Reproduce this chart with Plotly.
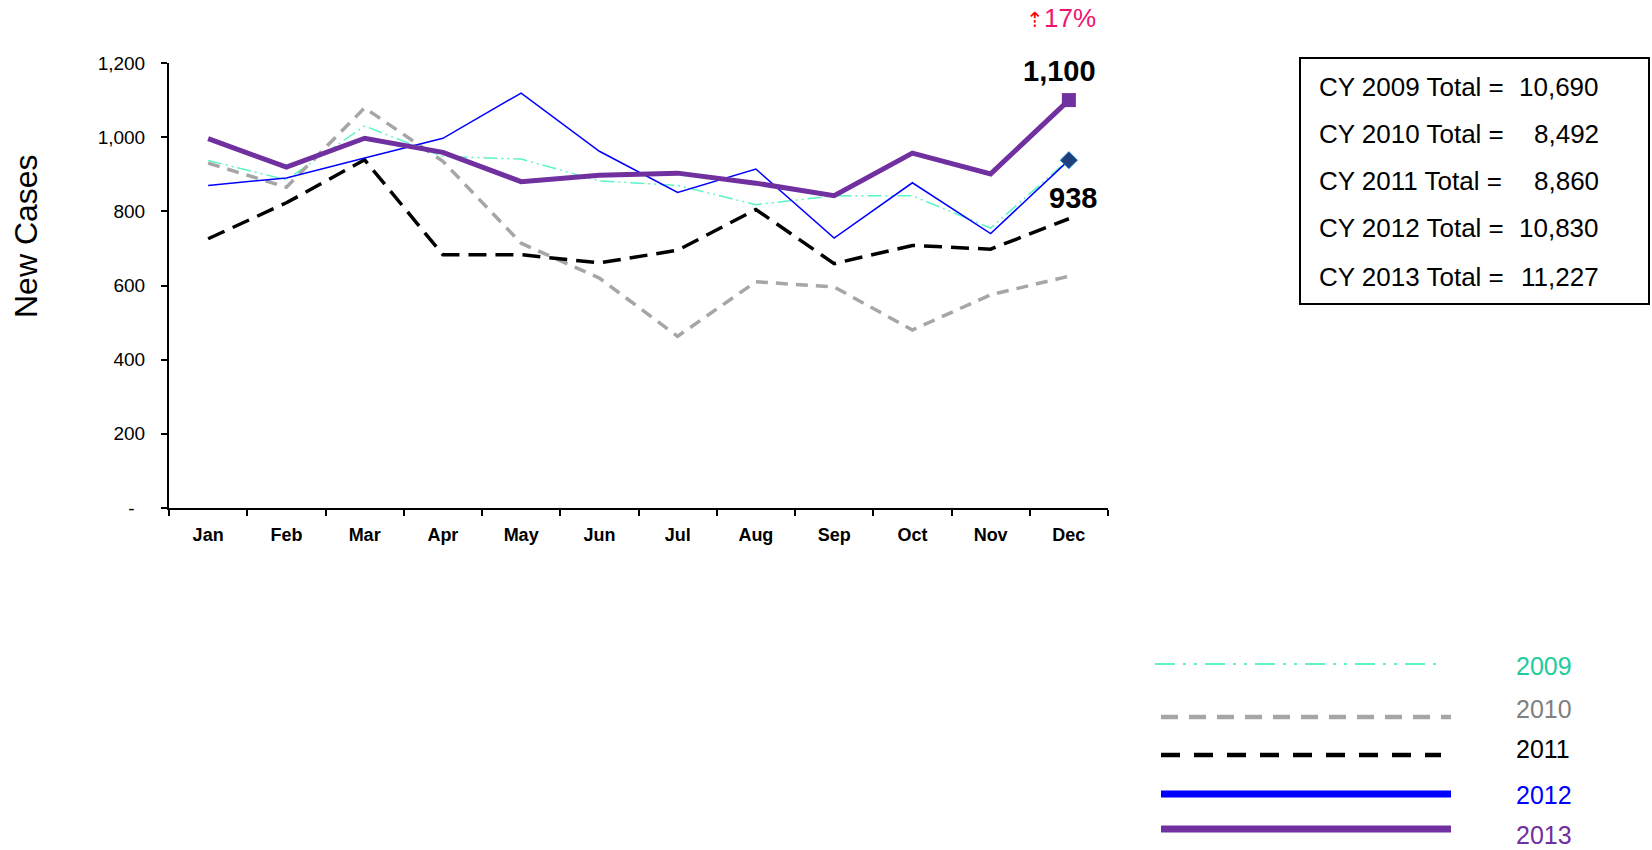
import plotly.graph_objects as go

# ---------------- data ----------------
months = ["Jan", "Feb", "Mar", "Apr", "May", "Jun", "Jul", "Aug", "Sep", "Oct", "Nov", "Dec"]
v2009 = [937, 885, 1030, 948, 941, 882, 870, 818, 842, 842, 755, 940]
v2010 = [930, 865, 1079, 935, 714, 620, 463, 610, 596, 480, 575, 625]
v2011 = [726, 823, 939, 683, 683, 661, 695, 805, 659, 708, 698, 780]
v2012 = [870, 890, 944, 997, 1119, 962, 851, 914, 728, 877, 740, 938]
v2013 = [996, 919, 997, 959, 880, 897, 903, 876, 842, 957, 901, 1100]
years = ["2009", "2010", "2011", "2012", "2013"]
totals = [10690, 8492, 8860, 10830, 11227]
ytick_vals = [0, 200, 400, 600, 800, 1000, 1200]
ytick_text = ["-\u00a0\u00a0", "200", "400", "600", "800", "1,000", "1,200"]
change_text = "17%"

FONT = "Arial, 'Liberation Sans', sans-serif"
W, H = 1652, 850
L, R, T, B = 169, 1108, 63, 508


def px(x):
    return (x - L) / (R - L)


def py(y):
    return (B - y) / (B - T)


fig = go.Figure()

fig.add_trace(go.Scatter(x=months, y=v2009, mode="lines", name="2009",
                         line=dict(color="#5CF5C8", width=1.5, dash="14px,4px,2px,4px,2px,4px")))
fig.add_trace(go.Scatter(x=months, y=v2010, mode="lines", name="2010",
                         line=dict(color="#A6A6A6", width=3.5, dash="12px,8px")))
fig.add_trace(go.Scatter(x=months, y=v2011, mode="lines", name="2011",
                         line=dict(color="#000000", width=3.5, dash="18px,9px")))
fig.add_trace(go.Scatter(x=months, y=v2012, mode="lines", name="2012",
                         line=dict(color="#0000FF", width=1.5)))
fig.add_trace(go.Scatter(x=[months[-1]], y=[v2012[-1]], mode="markers", name="2012 Dec",
                         marker=dict(symbol="diamond", size=13, color="#1F3F7A",
                                     line=dict(color="#0070C0", width=1))))
fig.add_trace(go.Scatter(x=months, y=v2013, mode="lines", name="2013",
                         line=dict(color="#7030A0", width=5)))
fig.add_trace(go.Scatter(x=[months[-1]], y=[v2013[-1]], mode="markers", name="2013 Dec",
                         marker=dict(symbol="square", size=14, color="#7030A0")))

annotations = []
# value labels at December
annotations.append(dict(x=months[-1], y=v2013[-1], xref="x", yref="y",
                        text="<b>{:,}</b>".format(v2013[-1]), showarrow=False,
                        xanchor="center", yanchor="middle",
                        xshift=-9, yshift=29, font=dict(family=FONT, size=29, color="black")))
annotations.append(dict(x=months[-1], y=v2012[-1], xref="x", yref="y",
                        text="<b>{:,}</b>".format(v2012[-1]), showarrow=False,
                        xanchor="center", yanchor="middle",
                        xshift=4, yshift=-38, font=dict(family=FONT, size=29, color="black")))
# percent change
annotations.append(dict(x=px(1061), y=py(18), xref="paper", yref="paper",
                        xanchor="center", yanchor="middle",
                        text="<span style='color:#FF0000;font-size:21px'>⇡</span>" + change_text,
                        showarrow=False, font=dict(family=FONT, size=26, color="#F0146E")))
# y axis title
annotations.append(dict(x=px(26), y=py(236), xref="paper", yref="paper", text="New Cases",
                        textangle=-90, showarrow=False, xanchor="center", yanchor="middle",
                        font=dict(family=FONT, size=32, color="black")))

# totals box
row_y = [86.5, 134, 181, 228, 277]
for yr, tot, ry in zip(years, totals, row_y):
    annotations.append(dict(x=px(1317), y=py(ry), xref="paper", yref="paper",
                            text="CY {} Total =".format(yr), showarrow=False,
                            xanchor="left", yanchor="middle",
                            font=dict(family=FONT, size=26, color="black")))
    annotations.append(dict(x=px(1601), y=py(ry), xref="paper", yref="paper",
                            text="{:,}".format(tot), showarrow=False,
                            xanchor="right", yanchor="middle",
                            font=dict(family=FONT, size=26, color="black")))

shapes = [dict(type="rect", xref="paper", yref="paper", x0=px(1300), x1=px(1649),
               y0=py(58), y1=py(304), line=dict(color="black", width=2))]

# custom legend
leg = [
    ("2009", "#5CF5C8", 2, "20px,8px,3px,8px,3px,8px", 1155, 1440, 664, "#1ECC9A", 666),
    ("2010", "#A6A6A6", 4.5, "17px,11px", 1161, 1451, 717, "#808080", 709),
    ("2011", "#000000", 4.5, "19px,14px", 1161, 1441, 755, "#000000", 749),
    ("2012", "#0000FF", 7, "solid", 1161, 1451, 794, "#0000FF", 795),
    ("2013", "#7030A0", 7, "solid", 1161, 1451, 829, "#7030A0", 835),
]
for name, col, w, dash, x0, x1, ly, tcol, ty in leg:
    shapes.append(dict(type="line", xref="paper", yref="paper", x0=px(x0), x1=px(x1),
                       y0=py(ly), y1=py(ly), line=dict(color=col, width=w, dash=dash)))
    annotations.append(dict(x=px(1514), y=py(ty), xref="paper", yref="paper", text=name,
                            showarrow=False, xanchor="left", yanchor="middle",
                            font=dict(family=FONT, size=25, color=tcol)))

fig.update_layout(
    width=W, height=H, autosize=False,
    margin=dict(l=L, r=W - R, t=T, b=H - B, pad=0),
    paper_bgcolor="white", plot_bgcolor="white",
    showlegend=False,
    font=dict(family=FONT, color="black"),
    annotations=annotations,
    shapes=shapes,
    xaxis=dict(type="category", range=[-0.5, 11.5], showgrid=False, zeroline=False,
               showline=True, linecolor="black", linewidth=2,
               ticks="outside", tickson="boundaries", ticklen=6, tickwidth=1.5, tickcolor="black",
               tickfont=dict(family=FONT, size=18, color="black"),
               tickvals=months, ticktext=["<b>{}</b>".format(m) for m in months],
               ticklabelstandoff=9),
    yaxis=dict(range=[0, 1200], showgrid=False, zeroline=False,
               showline=True, linecolor="black", linewidth=2,
               ticks="outside", ticklen=6, tickwidth=1.5, tickcolor="black",
               tickvals=ytick_vals, ticktext=ytick_text,
               tickfont=dict(family=FONT, size=19, color="black"),
               ticklabelstandoff=12),
)

fig.write_html("out.html", config={"displayModeBar": False},
               post_script="document.body.style.margin='0';document.body.style.overflow='hidden';")
